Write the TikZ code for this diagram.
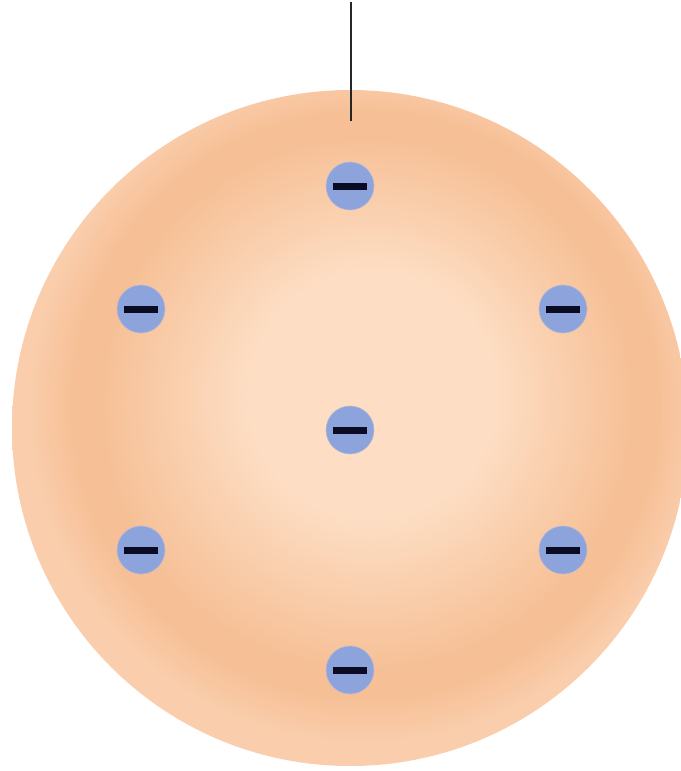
\documentclass[tikz,border=0pt]{standalone}
\usepackage{xcolor}
\usepackage{tikz}
\definecolor{puddinglight}{HTML}{FDDEC4}
\definecolor{puddingring}{HTML}{F6BF95}
\definecolor{puddingedge}{HTML}{FACEAD}
\definecolor{electronblue}{HTML}{8DA3DB}
\definecolor{electronedge}{HTML}{B7B9D6}
\definecolor{minusnavy}{HTML}{0B0B24}
\pgfdeclareradialshading{puddingshade}{\pgfpoint{2bp}{3bp}}{%
  color(0bp)=(puddinglight); color(9bp)=(puddinglight);
  color(20bp)=(puddingring); color(21.5bp)=(puddingring);
  color(25bp)=(puddingedge); color(50bp)=(puddingedge)}
\tikzset{
  pudding/.style={shading=puddingshade},
  electron/.style={circle, fill=electronblue, draw=electronedge, line width=0.6pt, minimum size=48pt, inner sep=0pt, text=minusnavy},
  wire/.style={draw=black!85, line width=2.2pt}
}

\begin{document}
\begin{tikzpicture}[x=1pt, y=-1pt]
  \useasboundingbox (0,0) rectangle (680,771);
  % positive sphere
  \shade[pudding] (350,428) circle (338);

  % suspension wire
  \coordinate (wtop) at (351,2);
  \coordinate (wend) at (351,121);
  \draw[wire] (wtop) -- (wend);

  % electrons
  \node[electron] (e1) at (350,186) {\rule[-3.5pt]{34pt}{7pt}};
  \node[electron] (e2) at (141,309) {\rule[-3.5pt]{34pt}{7pt}};
  \node[electron] (e3) at (563,309) {\rule[-3.5pt]{34pt}{7pt}};
  \node[electron] (e4) at (350,430) {\rule[-3.5pt]{34pt}{7pt}};
  \node[electron] (e5) at (141,550) {\rule[-3.5pt]{34pt}{7pt}};
  \node[electron] (e6) at (563,550) {\rule[-3.5pt]{34pt}{7pt}};
  \node[electron] (e7) at (350,670) {\rule[-3.5pt]{34pt}{7pt}};
\end{tikzpicture}
\end{document}
